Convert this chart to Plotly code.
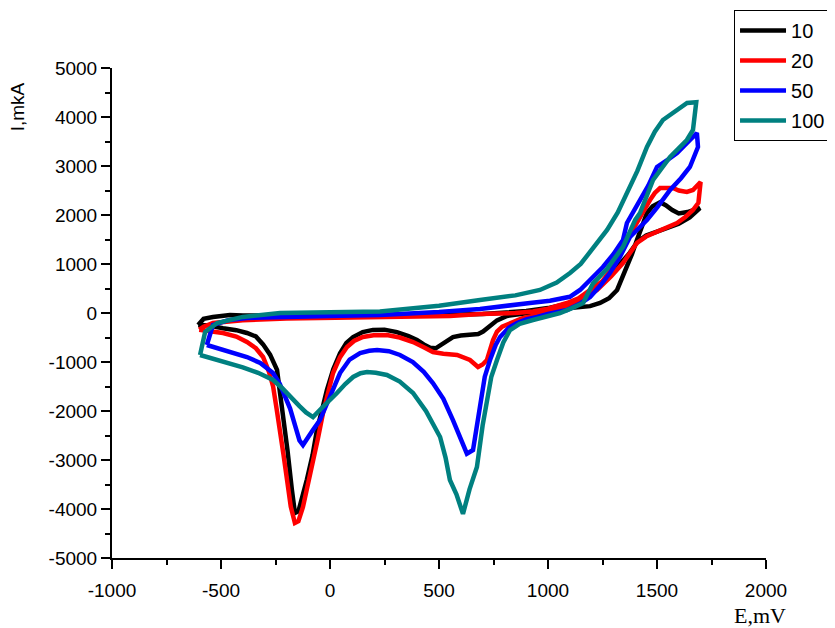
import plotly.graph_objects as go

# ---- data (E in mV, I in mkA) ----
names = ["10", "20", "50", "100"]

e_10 = [-605, -560, -491, -430, -381, -340, -307, -275, -243, -215, -195, -175, -161, -145, -125, -106,
        -80, -60, -35, -14, 15, 46, 75, 106, 150, 197, 250, 307, 360, 399, 430, 459, 485, 505, 535, 564,
        600, 642, 680, 702, 734, 766, 812, 858, 950, 1009, 1100, 1193, 1239, 1280, 1317, 1340, 1362, 1385,
        1408, 1430, 1454, 1480, 1514, 1540, 1570, 1600, 1640, 1697,
        1650, 1600, 1550, 1500, 1450, 1410, 1370, 1330, 1290, 1250, 1200, 1150, 1100, 1000, 900, 800, 700,
        600, 400, 200, 0, -200, -400, -459, -537, -580, -605]
i_10 = [-245, -250, -310, -350, -408, -480, -640, -850, -1160, -2040, -2800, -3600, -4080, -4050, -3750,
        -3400, -2900, -2390, -1950, -1570, -1150, -820, -610, -490, -390, -345, -340, -390, -470, -550, -640,
        -710, -720, -660, -560, -490, -460, -440, -430, -380, -250, -150, -60, -30, 30, 61, 100, 140, 204,
        300, 470, 700, 939, 1200, 1490, 1750, 2041, 2180, 2260, 2200, 2100, 2030, 2060, 2143,
        1950, 1820, 1740, 1680, 1580, 1450, 1200, 1000, 800, 600, 400, 280, 200, 100, 40, 0, -20,
        -30, -40, -50, -50, -50, -50, -41, -82, -120, -245]

e_20 = [-600, -560, -491, -430, -381, -340, -307, -280, -261, -245, -229, -213, -197, -180, -161, -145,
        -124, -100, -78, -55, -32, -10, 14, 46, 78, 110, 151, 200, 261, 320, 381, 430, 472, 520, 583, 642,
        679, 700, 720, 748, 766, 790, 826, 880, 950, 1000, 1087, 1150, 1225, 1290, 1344, 1380, 1408, 1450,
        1500, 1550, 1592, 1630, 1665, 1690, 1700,
        1665, 1637, 1600, 1573, 1514, 1490, 1468, 1422, 1390, 1362, 1330, 1300, 1250, 1193, 1140, 1087,
        1000, 931, 850, 688, 550, 400, 229, 0, -200, -400, -537, -580, -600]
i_20 = [-340, -370, -408, -480, -592, -720, -898, -1200, -1500, -1950, -2388, -2900, -3408, -3950, -4286,
        -4250, -3959, -3500, -3061, -2550, -2041, -1600, -1225, -900, -694, -570, -490, -455, -449, -500,
        -592, -700, -796, -830, -857, -959, -1102, -1050, -959, -551, -380, -280, -204, -110, -41, 20, 122,
        250, 470, 750, 1020, 1250, 1429, 1560, 1653, 1750, 1837, 1960, 2102, 2250, 2674,
        2510, 2470, 2500, 2551, 2551, 2450, 2306, 1959, 1700, 1490, 1200, 950, 650, 470, 300, 204,
        90, 30, 0, -20, -60, -70, -82, -90, -110, -150, -204, -280, -340]

e_50 = [-565, -500, -450, -381, -320, -261, -230, -200, -183, -160, -140, -124, -100, -80, -46, 0, 46, 90,
        138, 180, 216, 270, 321, 380, 430, 472, 520, 564, 600, 628, 656, 670, 688, 710, 734, 760, 780, 820,
        858, 900, 950, 1000, 1087, 1150, 1193, 1240, 1284, 1330, 1376, 1420, 1454, 1500, 1560, 1610, 1651,
        1688, 1683,
        1665, 1630, 1592, 1550, 1500, 1460, 1420, 1362, 1344, 1300, 1252, 1206, 1147, 1100, 1009, 917, 800,
        688, 500, 229, 0, -200, -381, -470, -537, -565]
i_50 = [-653, -740, -800, -898, -1020, -1225, -1450, -1750, -1950, -2300, -2600, -2694, -2550, -2400,
        -2184, -1700, -1225, -950, -816, -770, -755, -780, -857, -1000, -1200, -1429, -1750, -2184, -2600,
        -2870, -2796, -2400, -1776, -1300, -959, -650, -490, -300, -204, -130, -82, -20, 61, 200, 327, 560,
        816, 1143, 1551, 1750, 1898, 2150, 2510, 2750, 2980, 3388, 3674,
        3592, 3420, 3265, 3130, 2980, 2600, 2300, 1837, 1490, 1200, 939, 735, 470, 330, 250, 204, 130,
        82, 20, -41, -60, -80, -102, -150, -245, -653]

e_100 = [-596, -530, -459, -400, -330, -261, -220, -183, -140, -110, -78, -40, 0, 32, 70, 106, 140, 170,
         210, 261, 320, 381, 440, 505, 530, 550, 580, 610, 640, 674, 700, 720, 740, 766, 795, 826, 870, 931,
         1000, 1055, 1110, 1161, 1206, 1271, 1344, 1400, 1422, 1482, 1560, 1637, 1665, 1683, 1680,
         1638, 1580, 1527, 1490, 1454, 1410, 1362, 1320, 1271, 1230, 1193, 1150, 1101, 1040, 963, 850, 688,
         500, 229, 0, -229, -400, -518, -573, -596]
i_100 = [-857, -940, -1020, -1110, -1220, -1367, -1530, -1714, -1900, -2030, -2123, -1950, -1780, -1633,
         -1450, -1306, -1230, -1204, -1220, -1265, -1400, -1633, -2000, -2531, -2950, -3408, -3700, -4100,
         -3600, -3143, -2300, -1776, -1300, -959, -600, -347, -220, -143, -60, 0, 100, 204, 600, 900, 1350,
         1900, 2041, 2714, 3184, 3531, 3735, 4245, 4300,
         4286, 4100, 3939, 3700, 3388, 2900, 2449, 2050, 1694, 1450, 1225, 1000, 816, 620, 470, 360, 265,
         150, 30, 10, 0, -80, -204, -388, -857]

x_ticks = [-1000, -500, 0, 500, 1000, 1500, 2000]
y_ticks = [-5000, -4000, -3000, -2000, -1000, 0, 1000, 2000, 3000, 4000, 5000]

series_e = [e_10, e_20, e_50, e_100]
series_i = [i_10, i_20, i_50, i_100]
colors = ["#000000", "#FF0000", "#0000FF", "#008080"]

SANS = "Liberation Sans, Arial, sans-serif"
SERIF = "Liberation Serif, Times New Roman, serif"

fig = go.Figure()
for n, ex, iy, c in zip(names, series_e, series_i, colors):
    fig.add_trace(go.Scatter(x=ex, y=iy, mode="lines", name=n, legendgroup=n,
                             line=dict(color=c, width=4.5, shape="linear")))

axis_common = dict(showline=True, linecolor="black", linewidth=2, ticks="outside", ticklen=9,
                   tickwidth=2, tickcolor="black", showgrid=False, zeroline=False,
                   tickfont=dict(family=SANS, size=19, color="black"), mirror=False,
                   automargin=False)

fig.update_xaxes(range=[-1000, 2000], tickvals=x_ticks, ticktext=[str(v) for v in x_ticks],
                 minor=dict(ticks="outside", ticklen=5, tickwidth=2, tickcolor="black", dtick=250,
                            tick0=-1000, showgrid=False),
                 ticklabelstandoff=5, **axis_common)
fig.update_yaxes(range=[-5000, 5000], tickvals=y_ticks, ticktext=[str(v) for v in y_ticks],
                 minor=dict(ticks="outside", ticklen=5, tickwidth=2, tickcolor="black", dtick=500,
                            tick0=-5000, showgrid=False),
                 **axis_common)

fig.add_annotation(text="I,mkA", xref="paper", yref="paper", x=-0.145, y=0.92, textangle=-90,
                   showarrow=False, font=dict(family=SANS, size=19, color="black"),
                   xanchor="center", yanchor="middle")
fig.add_annotation(text="E,mV", xref="paper", yref="paper", x=0.991, y=-0.118,
                   showarrow=False, font=dict(family=SERIF, size=22, color="black"),
                   xanchor="center", yanchor="middle")

fig.update_layout(
    width=827, height=620,
    margin=dict(l=104, r=69, t=60, b=70, autoexpand=False),
    plot_bgcolor="white", paper_bgcolor="white",
    legend=dict(xref="container", yref="container", x=0.8779, y=0.9968,
                xanchor="left", yanchor="top",
                bordercolor="black", borderwidth=1, bgcolor="white",
                font=dict(family=SANS, size=20, color="black"),
                tracegroupgap=1, traceorder="grouped", itemwidth=46),
    showlegend=True,
)

fig.write_html("out.html")
